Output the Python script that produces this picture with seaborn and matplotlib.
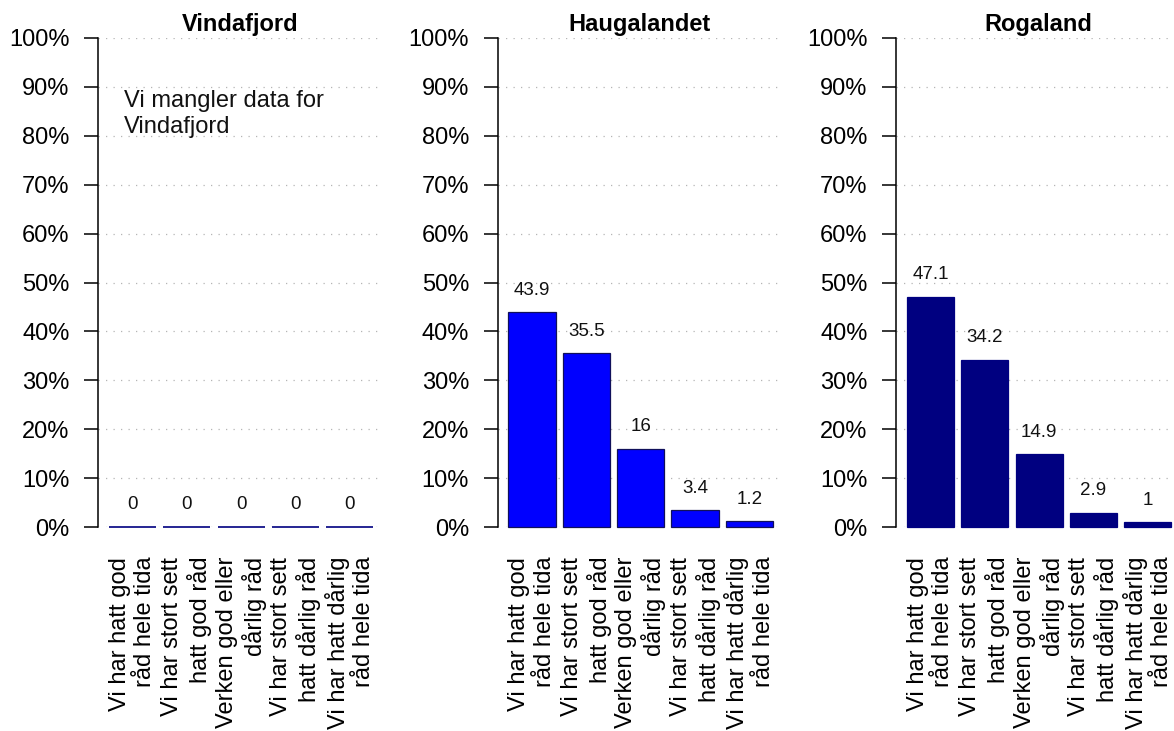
import matplotlib
matplotlib.use("Agg")
import matplotlib.pyplot as plt
import seaborn as sns
import pandas as pd

# Answer categories (two-line labels)
categories = [
    "Vi har hatt god\nråd hele tida",
    "Vi har stort sett\nhatt god råd",
    "Verken god eller\ndårlig råd",
    "Vi har stort sett\nhatt dårlig råd",
    "Vi har hatt dårlig\nråd hele tida",
]

regions = ["Vindafjord", "Haugalandet", "Rogaland"]

# Share of respondents (%)
vindafjord = [0, 0, 0, 0, 0]
haugalandet = [43.9, 35.5, 16, 3.4, 1.2]
rogaland = [47.1, 34.2, 14.9, 2.9, 1]

bar_colors = ["#000080", "#0000FF", "#000080"]
edge_colors = ["#000080", "#10105A", "#000080"]

ytick_values = list(range(0, 101, 10))
ytick_labels = [f"{v}%" for v in ytick_values]

missing_note = "Vi mangler data for\nVindafjord"

sns.set_theme(style="white")
plt.rcParams["font.family"] = ["Liberation Sans", "DejaVu Sans"]

W, H = 1174, 731
fig = plt.figure(figsize=(W / 100, H / 100), dpi=100)

panel_left_px = [98, 497.5, 896]
panel_width_px = 285
bottom_px, top_px = 527, 38

series = [vindafjord, haugalandet, rogaland]

for i, (region, vals) in enumerate(zip(regions, series)):
    ax = fig.add_axes([
        panel_left_px[i] / W,
        (H - bottom_px) / H,
        panel_width_px / W,
        (bottom_px - top_px) / H,
    ])
    df = pd.DataFrame({"kategori": categories, "andel": vals})
    sns.barplot(
        data=df, x="kategori", y="andel", ax=ax,
        color=bar_colors[i], saturation=1, width=0.87,
        edgecolor=edge_colors[i], linewidth=1.2 if i == 0 else 0.9,
    )
    for p in ax.patches:
        p.set_clip_on(False)

    ax.set_xlim(-0.635, 4.61)
    ax.set_ylim(0, 100)
    ax.set_axisbelow(True)
    ax.yaxis.grid(True, color="#b5b5b5", linestyle=(0, (1, 5)), linewidth=0.9)
    ax.xaxis.grid(False)

    for s in ("top", "right", "bottom"):
        ax.spines[s].set_visible(False)
    ax.spines["left"].set_color("black")
    ax.spines["left"].set_linewidth(1.1)

    ax.set_yticks(ytick_values)
    ax.set_yticklabels(ytick_labels)
    ax.tick_params(axis="y", left=True, length=10, width=1.1, color="black",
                   pad=10.5, labelsize=17, labelcolor="black")
    ax.tick_params(axis="x", bottom=False, length=0, pad=21.5,
                   labelsize=17, labelcolor="black", labelrotation=90)
    for lab in ax.get_xticklabels():
        lab.set_ha("center")
        lab.set_va("top")
        lab.set_multialignment("right")

    ax.set_xlabel("")
    ax.set_ylabel("")
    ax.set_title(region, fontsize=17, fontweight="bold", pad=5, color="black")

    # Value labels above each bar
    for xpos, v in enumerate(vals):
        ax.text(xpos, v + 3.6, f"{v:g}", ha="center", va="baseline",
                fontsize=13.5, color="#111111")

    if i == 0:
        ax.text(-0.16, 89.3, missing_note, ha="left", va="top",
                fontsize=17, color="#111111", linespacing=1.2)

fig.savefig("out.png", dpi=100)
